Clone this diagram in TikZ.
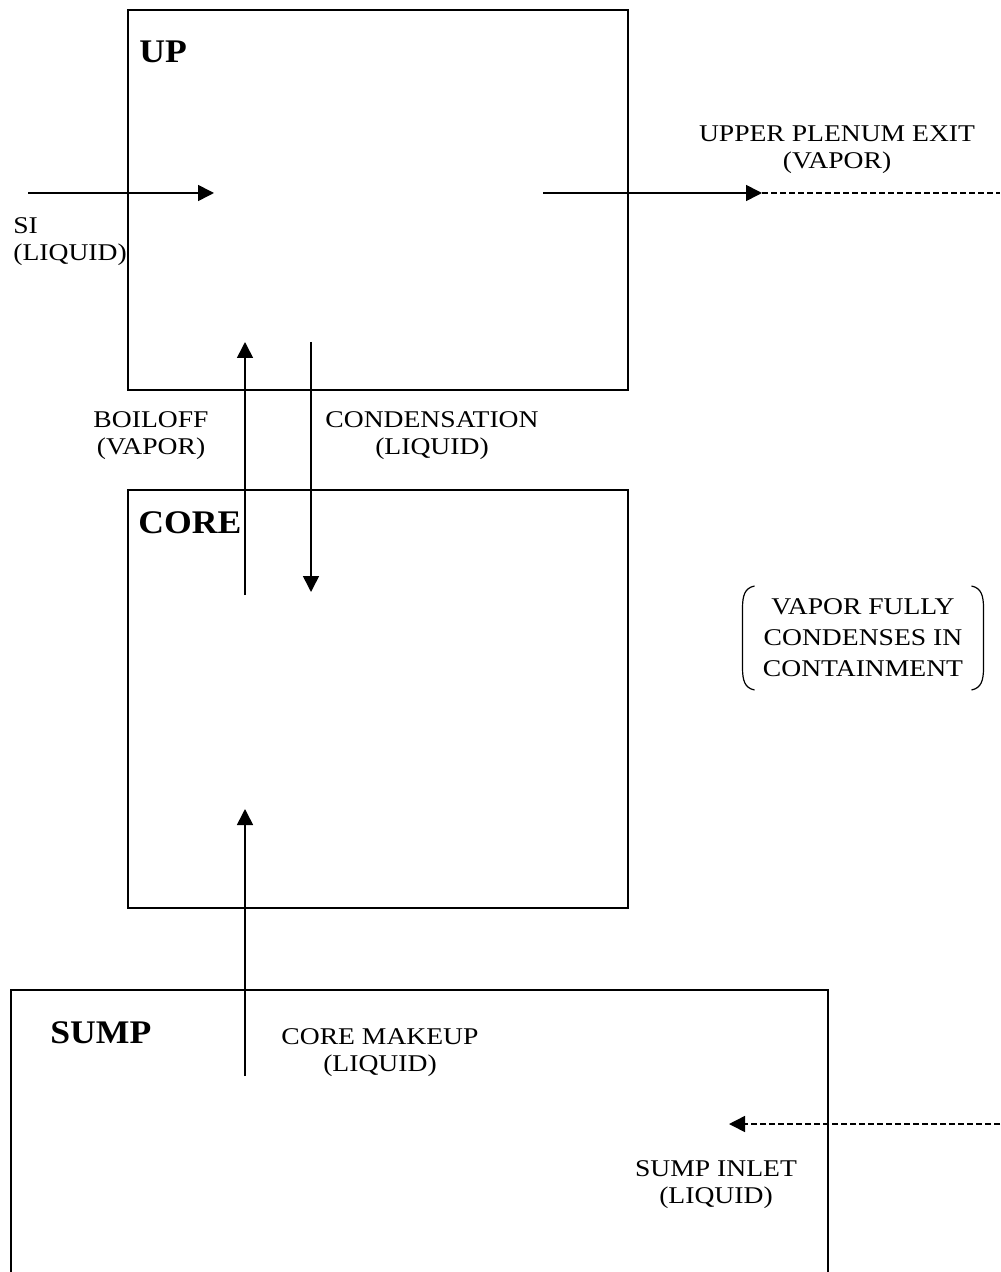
\documentclass[tikz,border=0pt]{standalone}
\usepackage{fontspec}
\setmainfont{Liberation Serif}
\newfontfamily\lblfont[FakeStretch=1.15]{Liberation Serif}
\newfontfamily\ttlfont[FakeStretch=1.08]{Liberation Serif}
\usetikzlibrary{arrows.meta}
\begin{document}
\begin{tikzpicture}[x=0.5pt,y=-0.5pt,
  boxst/.style={draw,line width=1pt,minimum width=250pt,inner sep=0pt},
  flow/.style={line width=0.8pt,-{Triangle[length=8pt,width=8pt]}},
  dashflow/.style={line width=0.8pt,dash pattern=on 3pt off 1.5pt},
  lbl/.style={font=\lblfont\fontsize{12}{13.5}\selectfont,align=center,inner sep=0pt},
  title/.style={font=\ttlfont\fontsize{16.5}{18}\selectfont\bfseries,inner sep=0pt,anchor=west}]
\useasboundingbox (0,0) rectangle (1000,1272);
% boxes
\node[boxst,minimum height=190pt] (up) at (378,200) {};
\node[boxst,minimum height=209pt] (core) at (378,699) {};
\draw[line width=1pt] (11,1272) -- (11,990) -- (828,990) -- (828,1272);
\coordinate (sumptop) at (245,990);
% titles
\node[title] (uplbl) at (139,52) {UP};
\node[title] (corelbl) at (138,523) {CORE};
\node[title] (sumplbl) at (50,1033) {SUMP};
% coordinates for flows
\coordinate (siA) at (28,193);
\coordinate (siB) at (214,193);
\coordinate (exA) at (543,193);
\coordinate (exB) at (762,193);
\coordinate (exC) at (1000,193);
\coordinate (boA) at (245,595);
\coordinate (boB) at (245,342);
\coordinate (coA) at (311,342);
\coordinate (coB) at (311,592);
\coordinate (mkA) at (245,1076);
\coordinate (mkB) at (245,809);
\coordinate (inA) at (1000,1124);
\coordinate (inB) at (729,1124);
% flows
\draw[flow] (siA) -- (siB);
\draw[flow] (exA) -- (exB);
\draw[dashflow] (exB) -- (exC);
\draw[flow] (boA) -- (boB);
\draw[flow] (coA) -- (coB);
\draw[flow] (mkA) -- (mkB);
\draw[dashflow,-{Triangle[length=8pt,width=8pt]}] (inA) -- (inB);
% labels
\node[lbl,align=left,anchor=north west] (silbl) at (13,217) {SI\\(LIQUID)};
\node[lbl] (exlbl) at (837,150) {UPPER PLENUM EXIT\\(VAPOR)};
\node[lbl] (bolbl) at (151,436) {BOILOFF\\(VAPOR)};
\node[lbl] (colbl) at (432,436) {CONDENSATION\\(LIQUID)};
\node[lbl] (mklbl) at (380,1053) {CORE MAKEUP\\(LIQUID)};
\node[lbl] (inlbl) at (716,1185) {SUMP INLET\\(LIQUID)};
\node[lbl,font=\lblfont\fontsize{12}{15.5}\selectfont] (note) at (863,638) {VAPOR FULLY\\CONDENSES IN\\CONTAINMENT};
% parentheses around note
\draw[line width=0.6pt] ([xshift=-4pt,yshift=26pt]note.west) .. controls ([xshift=-9pt,yshift=25pt]note.west) and ([xshift=-10pt,yshift=21pt]note.west) .. ([xshift=-10pt,yshift=15pt]note.west) -- ([xshift=-10pt,yshift=-15pt]note.west) .. controls ([xshift=-10pt,yshift=-21pt]note.west) and ([xshift=-9pt,yshift=-25pt]note.west) .. ([xshift=-4pt,yshift=-26pt]note.west);
\draw[line width=0.6pt] ([xshift=4pt,yshift=26pt]note.east) .. controls ([xshift=9pt,yshift=25pt]note.east) and ([xshift=10pt,yshift=21pt]note.east) .. ([xshift=10pt,yshift=15pt]note.east) -- ([xshift=10pt,yshift=-15pt]note.east) .. controls ([xshift=10pt,yshift=-21pt]note.east) and ([xshift=9pt,yshift=-25pt]note.east) .. ([xshift=4pt,yshift=-26pt]note.east);
\end{tikzpicture}
\end{document}
